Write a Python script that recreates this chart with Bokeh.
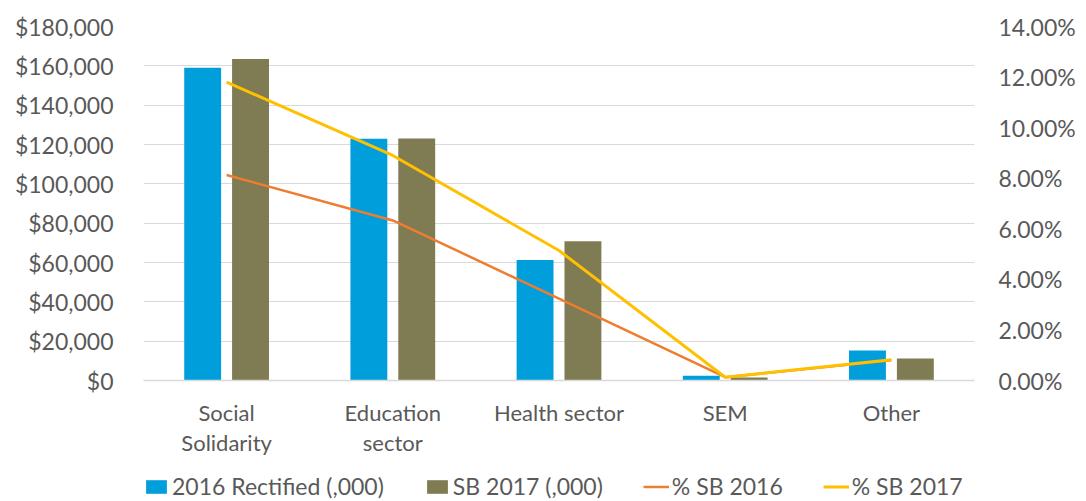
from bokeh.plotting import figure
from bokeh.models import (ColumnDataSource, FactorRange, Range1d, LinearAxis, CategoricalAxis,
                          NumeralTickFormatter, FixedTicker, Legend, LegendItem)
from bokeh.layouts import column
from bokeh.transform import dodge
from bokeh.embed import file_html
from bokeh.resources import INLINE

categories = ["Social Solidarity", "Education sector", "Health sector", "SEM", "Other"]
label_line1 = ["Social", "Education", "Health sector", "SEM", "Other"]
label_line2 = ["Solidarity", "sector", " ", "  ", "   "]
rectified_2016 = [159000, 122900, 61300, 2400, 15200]
sb_2017 = [163500, 123000, 70800, 1500, 11200]
pct_sb_2016 = [0.0813, 0.0633, 0.0324, 0.0013, 0.0080]
pct_sb_2017 = [0.1180, 0.0890, 0.0514, 0.0013, 0.0082]
series_names = ["2016 Rectified (,000)", "SB 2017 (,000)", "% SB 2016", "% SB 2017"]

left_ticks = [0, 20000, 40000, 60000, 80000, 100000, 120000, 140000, 160000, 180000]
right_ticks = [0, 0.02, 0.04, 0.06, 0.08, 0.10, 0.12, 0.14]

FONT = "Lato"
GREY_TXT = "#595959"
C_BLUE, C_OLIVE, C_ORANGE, C_YELLOW = "#009FDB", "#7F7B52", "#ED7D31", "#FFC000"
W = 1078

src = ColumnDataSource(dict(cat=categories, r16=rectified_2016, s17=sb_2017,
                            p16=pct_sb_2016, p17=pct_sb_2017))

p = figure(x_range=FactorRange(*categories, range_padding=0), y_range=Range1d(0, 180000),
           width=W, height=470, output_backend="svg", x_axis_location=None,
           toolbar_location=None, min_border_left=143, min_border_right=W - 143 - 836,
           min_border_top=26, min_border_bottom=90)
p.extra_y_ranges = {"pct": Range1d(0, 0.14)}
p.extra_x_ranges = {"l1": FactorRange(*label_line1, range_padding=0),
                    "l2": FactorRange(*label_line2, range_padding=0)}

p.vbar(x=dodge("cat", -0.144, range=p.x_range), top="r16", width=0.222,
       source=src, fill_color=C_BLUE, line_color=None)
p.vbar(x=dodge("cat", 0.144, range=p.x_range), top="s17", width=0.222,
       source=src, fill_color=C_OLIVE, line_color=None)
p.line(x="cat", y="p16", source=src, y_range_name="pct", line_color=C_ORANGE, line_width=2.5)
p.line(x="cat", y="p17", source=src, y_range_name="pct", line_color=C_YELLOW, line_width=3)

p.yaxis.ticker = FixedTicker(ticks=left_ticks)
p.yaxis.formatter = NumeralTickFormatter(format="$0,0")
ax_r = LinearAxis(y_range_name="pct", ticker=FixedTicker(ticks=right_ticks),
                  formatter=NumeralTickFormatter(format="0.00%"))
p.add_layout(ax_r, "right")

for ax in [p.yaxis[0], ax_r]:
    ax.axis_line_color = None
    ax.major_tick_line_color = None
    ax.minor_tick_line_color = None
    ax.major_tick_out = 0
    ax.major_label_text_font = FONT
    ax.major_label_text_font_size = "23px"
    ax.major_label_text_color = GREY_TXT
p.yaxis[0].major_label_standoff = 30
ax_r.major_label_standoff = 24

xa1 = CategoricalAxis(x_range_name="l1", axis_line_color="#D9D9D9", axis_line_width=1.5,
                      major_tick_line_color=None, minor_tick_line_color=None,
                      major_tick_out=0, major_label_standoff=18,
                      major_label_text_font=FONT, major_label_text_font_size="22px",
                      major_label_text_color=GREY_TXT)
xa2 = CategoricalAxis(x_range_name="l2", axis_line_color=None,
                      major_tick_line_color=None, minor_tick_line_color=None,
                      major_tick_out=0, major_label_standoff=0,
                      major_label_text_font=FONT, major_label_text_font_size="22px",
                      major_label_text_color=GREY_TXT)
p.add_layout(xa1, "below")
p.add_layout(xa2, "below")

p.xgrid.grid_line_color = None
p.ygrid.ticker = FixedTicker(ticks=left_ticks)
p.ygrid.grid_line_color = "#D9D9D9"
p.ygrid.grid_line_width = 1
p.outline_line_color = None

# legend strip below the chart (its glyphs sit outside the visible range)
LH = 30
lf = figure(width=W, height=LH, x_range=Range1d(0, W), y_range=Range1d(0, LH),
            output_backend="svg", toolbar_location=None, min_border=0,
            x_axis_location=None, y_axis_location=None)
lf.grid.grid_line_color = None
lf.outline_line_color = None
hidden = ColumnDataSource(dict(x=[-5000, -4000], y=[-5000, -4000]))
g1 = lf.vbar(x="x", top="y", width=1, source=hidden, fill_color=C_BLUE, line_color=None)
g2 = lf.vbar(x="x", top="y", width=1, source=hidden, fill_color=C_OLIVE, line_color=None)
g3 = lf.line(x="x", y="y", source=hidden, line_color=C_ORANGE, line_width=2.5)
g4 = lf.line(x="x", y="y", source=hidden, line_color=C_YELLOW, line_width=3)
legend = Legend(items=[LegendItem(label=n, renderers=[g]) for n, g in
                       zip(series_names, [g1, g2, g3, g4])],
                orientation="horizontal", location=(0, 0),
                label_text_font=FONT, label_text_font_size="23px",
                label_text_color=GREY_TXT, glyph_width=26, glyph_height=17,
                spacing=40, label_standoff=3, padding=0, margin=0,
                border_line_color=None, background_fill_alpha=0)
lf.add_layout(legend, "center")

open("out.html", "w").write(file_html(column(p, lf, spacing=0), INLINE))
